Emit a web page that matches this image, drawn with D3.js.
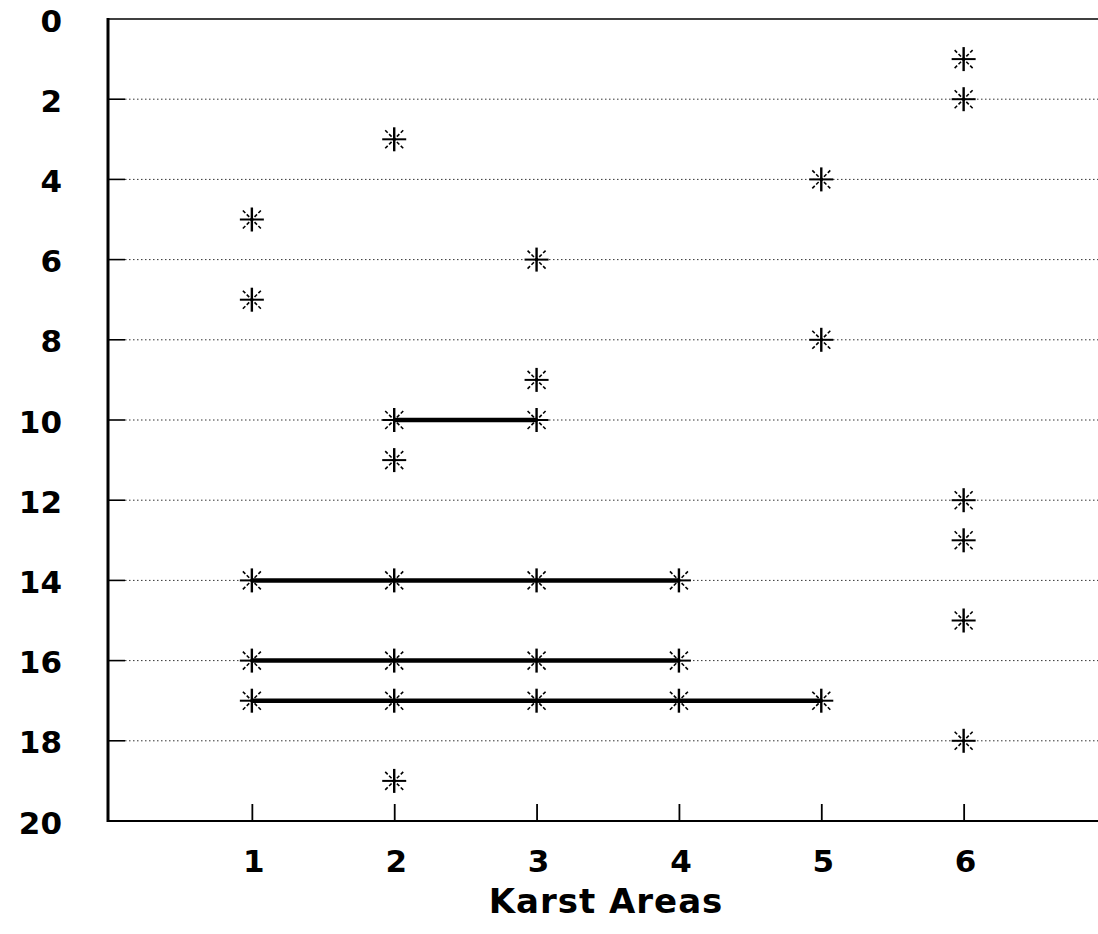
<!DOCTYPE html>
<html>
<head>
<meta charset="utf-8">
<script src="https://cdn.jsdelivr.net/npm/d3@7"></script>
<style>
  html, body { margin: 0; padding: 0; background: #fff; }
  svg { display: block; }
  .lbl { font-family: "DejaVu Sans", "Liberation Sans", Arial, sans-serif; font-weight: bold; fill: #000; }
</style>
</head>
<body>
<svg id="chart" width="1098" height="934"></svg>
<script>
// Depths (0 at top) at which each karst area has an observation
const areas = [1, 2, 3, 4, 5, 6];
const area1 = [5, 7, 14, 16, 17];
const area2 = [3, 10, 11, 14, 16, 17, 19];
const area3 = [6, 9, 10, 14, 16, 17];
const area4 = [14, 16, 17];
const area5 = [4, 8, 17];
const area6 = [1, 2, 12, 13, 15, 18];
const areaValues = [area1, area2, area3, area4, area5, area6];

// Levels shared across consecutive areas: level, first area, last area
const linkLevels = [10, 14, 16, 17];
const linkFrom = [2, 1, 1, 1];
const linkTo = [3, 4, 4, 5];

const yTicks = [0, 2, 4, 6, 8, 10, 12, 14, 16, 18, 20];
const xTicks = [1, 2, 3, 4, 5, 6];
const xTitle = "Karst Areas";

const svg = d3.select("#chart");
const plotLeft = 108, plotTop = 19, plotBottom = 821;

const x = d3.scaleLinear().domain([0, 7]).range([109.5, 1106]);
const y = d3.scaleLinear().domain([0, 20]).range([plotTop, plotBottom]);

// dotted gridlines with a short solid tick at the axis
const grid = svg.append("g");
yTicks.filter(d => d > 0 && d < 20).forEach(d => {
  grid.append("line")
    .attr("x1", plotLeft + 17).attr("x2", 1098)
    .attr("y1", y(d)).attr("y2", y(d))
    .attr("stroke", "#333").attr("stroke-width", 1)
    .attr("stroke-dasharray", "1.5,2.5");
  grid.append("line")
    .attr("x1", plotLeft).attr("x2", plotLeft + 17)
    .attr("y1", y(d)).attr("y2", y(d))
    .attr("stroke", "#000").attr("stroke-width", 1.6);
});

// frame: top border, left axis, bottom axis
svg.append("line").attr("x1", plotLeft).attr("x2", 1098).attr("y1", plotTop).attr("y2", plotTop)
  .attr("stroke", "#000").attr("stroke-width", 1.6);
svg.append("line").attr("x1", plotLeft).attr("x2", plotLeft).attr("y1", plotTop - 1).attr("y2", plotBottom + 1)
  .attr("stroke", "#000").attr("stroke-width", 3);
svg.append("line").attr("x1", plotLeft).attr("x2", 1098).attr("y1", plotBottom).attr("y2", plotBottom)
  .attr("stroke", "#000").attr("stroke-width", 2.2);

// bottom axis ticks point inward
const xAxis = d3.axisBottom(x).tickValues(xTicks).tickSizeInner(-17).tickSizeOuter(0).tickFormat("");
const gx = svg.append("g").attr("transform", `translate(0,${plotBottom})`).call(xAxis);
gx.select(".domain").remove();
gx.selectAll(".tick line").attr("stroke", "#000").attr("stroke-width", 1.8);

// tick labels
svg.append("g").selectAll("text").data(yTicks).join("text")
  .attr("class", "lbl")
  .attr("x", 62).attr("y", d => y(d) + 4)
  .attr("text-anchor", "end").attr("dominant-baseline", "middle")
  .attr("font-size", 31)
  .text(d => d);

svg.append("g").selectAll("text").data(xTicks).join("text")
  .attr("class", "lbl")
  .attr("x", d => x(d) + 2).attr("y", 872)
  .attr("text-anchor", "middle")
  .attr("font-size", 31)
  .text(d => d);

svg.append("text").attr("class", "lbl")
  .attr("x", 606).attr("y", 913)
  .attr("text-anchor", "middle")
  .attr("font-size", 34)
  .attr("letter-spacing", 1)
  .text(xTitle);

// thick connecting lines
svg.append("g").selectAll("line").data(linkLevels).join("line")
  .attr("x1", (d, i) => x(linkFrom[i]))
  .attr("x2", (d, i) => x(linkTo[i]))
  .attr("y1", d => y(d)).attr("y2", d => y(d))
  .attr("stroke", "#000").attr("stroke-width", 4.5);

// asterisk markers
const pts = [];
areaValues.forEach((vals, i) => vals.forEach(v => pts.push({ a: areas[i], v })));
const h = 12, dg = 9;
const mk = svg.append("g").selectAll("g").data(pts).join("g")
  .attr("transform", d => `translate(${x(d.a)},${y(d.v)})`);
mk.append("line").attr("x1", 0).attr("x2", 0).attr("y1", -h).attr("y2", h)
  .attr("stroke", "#000").attr("stroke-width", 2.4);
mk.append("line").attr("x1", -h).attr("x2", h).attr("y1", 0).attr("y2", 0)
  .attr("stroke", "#000").attr("stroke-width", 2);
mk.append("line").attr("x1", -dg).attr("x2", dg).attr("y1", -dg).attr("y2", dg)
  .attr("stroke", "#000").attr("stroke-width", 1.6).attr("stroke-dasharray", "3.5,2");
mk.append("line").attr("x1", -dg).attr("x2", dg).attr("y1", dg).attr("y2", -dg)
  .attr("stroke", "#000").attr("stroke-width", 1.6).attr("stroke-dasharray", "3.5,2");
</script>
</body>
</html>
